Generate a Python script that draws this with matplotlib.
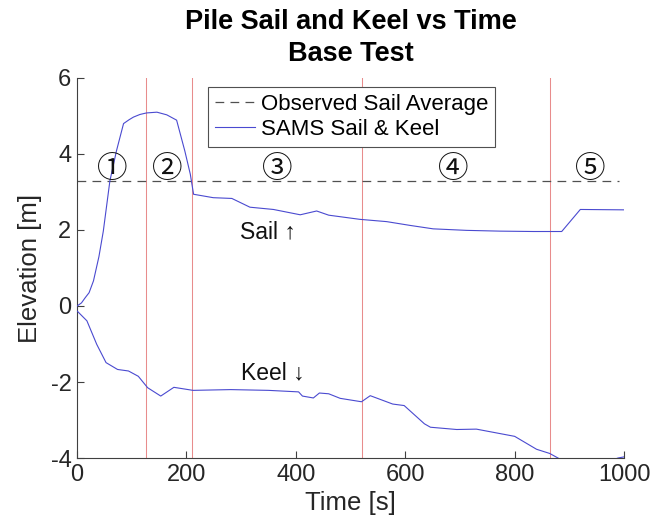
import numpy as np
import matplotlib
matplotlib.use('Agg')
import matplotlib.pyplot as plt

plt.rcParams['font.family'] = ['Liberation Sans', 'DejaVu Sans']
plt.rcParams['axes.unicode_minus'] = False

# sail elevation trace
sail_t = [0, 8, 15, 22, 30, 40, 48, 60, 72, 85, 95, 103, 115, 127, 146, 164,
          182, 197, 207, 213, 249, 283, 316, 359, 408, 438, 460, 517, 566,
          609, 651, 712, 773, 834, 886, 920, 1000]
sail_z = [0.0, 0.08, 0.22, 0.35, 0.66, 1.3, 1.97, 3.29, 4.08, 4.8, 4.9, 4.97,
          5.04, 5.08, 5.1, 5.03, 4.89, 4.08, 3.47, 2.94, 2.85, 2.83, 2.6,
          2.54, 2.4, 2.5, 2.39, 2.28, 2.22, 2.12, 2.03, 1.99, 1.97, 1.96,
          1.96, 2.54, 2.53]

# keel elevation trace
keel_t = [0, 18, 36, 53, 74, 94, 112, 129, 153, 177, 212, 281, 350, 405, 412,
          432, 443, 460, 481, 520, 536, 577, 598, 635, 646, 694, 730, 800,
          840, 864, 883, 920, 960, 989, 1000]
keel_z = [-0.13, -0.39, -1.01, -1.49, -1.67, -1.71, -1.85, -2.15, -2.37,
          -2.14, -2.22, -2.2, -2.22, -2.26, -2.37, -2.42, -2.29, -2.31, -2.43,
          -2.52, -2.36, -2.58, -2.62, -3.1, -3.19, -3.25, -3.24, -3.43, -3.77,
          -3.88, -4.03, -4.12, -4.15, -4.0, -3.97]

sail_avg = 3.3
phase_bounds = [126, 211, 520, 864]
phase_labels = ['\u2460', '\u2461', '\u2462', '\u2463', '\u2464']
phase_label_t = [64, 165, 366, 687, 938]
phase_label_z = 3.6

fig = plt.figure(figsize=(6.53, 5.29), dpi=100)
ax = fig.add_axes([0.118, 0.1342, 0.8377, 0.7184])

for xb in phase_bounds:
    ax.axvline(xb, color='#e88c8c', linewidth=0.75, zorder=1)

ax.plot([0, 990], [sail_avg, sail_avg], color='#505050', linewidth=0.9,
        dashes=(7, 5), label='Observed Sail Average', zorder=2)
ax.plot(sail_t, sail_z, color='#4a4ad0', linewidth=0.8,
        label='SAMS Sail & Keel', zorder=3)
ax.plot(keel_t, keel_z, color='#4a4ad0', linewidth=0.8, zorder=3)

for lab, t in zip(phase_labels, phase_label_t):
    ax.text(t, phase_label_z, lab, ha='center', va='center', fontsize=22,
            family=['DejaVu Serif', 'Noto Sans CJK JP'], color='#111111')

ax.text(298, 1.95, 'Sail \u2191', ha='left', va='center', fontsize=16.5,
        color='#111111')
ax.text(300, -1.76, 'Keel \u2193', ha='left', va='center', fontsize=16.5,
        color='#111111')

ax.set_xlim(0, 1000)
ax.set_ylim(-4, 6)
ax.set_xticks([0, 200, 400, 600, 800, 1000])
ax.set_yticks([-4, -2, 0, 2, 4, 6])
for side in ['top', 'right']:
    ax.spines[side].set_visible(False)
for side in ['left', 'bottom']:
    ax.spines[side].set_color('#404040')
    ax.spines[side].set_linewidth(0.8)
ax.tick_params(direction='in', length=5, width=0.8, color='#404040',
               labelsize=17, labelcolor='#262626', pad=4)

ax.set_xlabel('Time [s]', fontsize=18.5, color='#262626', labelpad=4)
ax.set_ylabel('Elevation [m]', fontsize=18.5, color='#262626', labelpad=6)
ax.set_title('Pile Sail and Keel vs Time\nBase Test', fontsize=19.5,
             fontweight='bold', linespacing=1.3, pad=12)

leg = ax.legend(loc='upper left', bbox_to_anchor=(0.2395, 0.976),
                borderaxespad=0, fontsize=16, handlelength=1.8,
                handletextpad=0.3, labelspacing=0.2, borderpad=0.3,
                fancybox=False, framealpha=1, edgecolor='#505050')
leg.get_frame().set_linewidth(0.8)

plt.savefig('out.png', dpi=100)
